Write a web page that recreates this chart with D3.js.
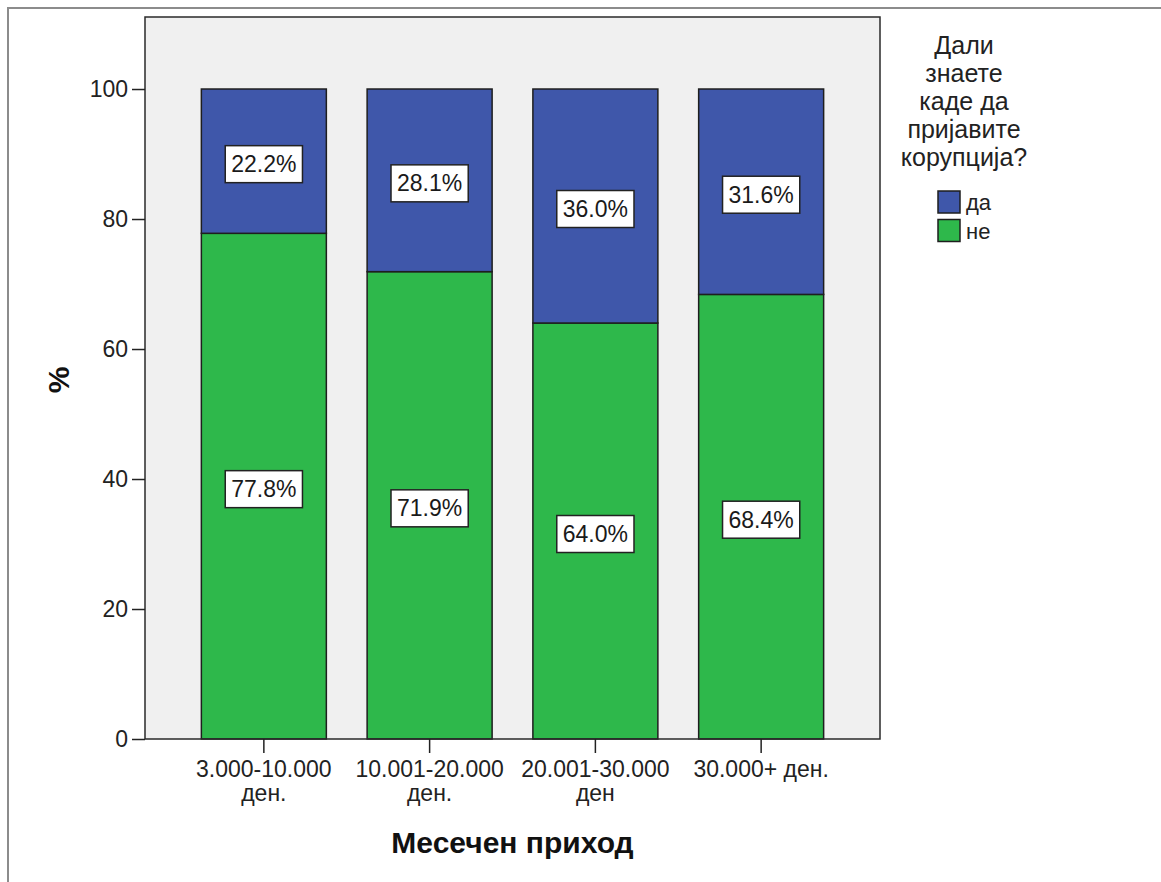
<!DOCTYPE html>
<html><head><meta charset="utf-8">
<script src="https://cdn.jsdelivr.net/npm/d3@7/dist/d3.min.js"></script>
<style>
html,body{margin:0;padding:0;background:#fff;}
svg{display:block;font-family:"Liberation Sans",Arial,sans-serif;}
</style></head>
<body>
<svg id="chart" width="1161" height="882"></svg>
<script>
const categories = [["3.000-10.000","ден."],["10.001-20.000","ден."],["20.001-30.000","ден"],["30.000+ ден."]];
const categoryKeys = ["c1","c2","c3","c4"];
const seriesNames = ["да","не"];
const daValues = [22.2, 28.1, 36.0, 31.6];
const neValues = [77.8, 71.9, 64.0, 68.4];
const yTicks = [0,20,40,60,80,100];
const colors = {"да":"#3f57aa","не":"#2eb84b"};
const legendTitle = ["Дали","знаете","каде да","пријавите","корупција?"];
const xTitle = "Месечен приход";
const yTitle = "%";

const svg = d3.select("#chart");
const plot = {left:145, right:880, top:17, bottom:739};

// outer frame
svg.append("rect").attr("x",8).attr("y",8).attr("width",1200).attr("height",1000)
  .attr("fill","none").attr("stroke","#8c8c8c").attr("stroke-width",2);

const x = d3.scaleBand().domain(categoryKeys).range([plot.left, plot.right])
  .paddingInner(0.246).paddingOuter(0.34);
const y = d3.scaleLinear().domain([0,111.08]).range([plot.bottom, plot.top]);

svg.append("rect").attr("x",plot.left).attr("y",plot.top)
  .attr("width",plot.right-plot.left).attr("height",plot.bottom-plot.top)
  .attr("fill","#f0f0f0");

// stacked data
const rows = categoryKeys.map((k,i)=>({key:k, "не":neValues[i], "да":daValues[i]}));
const stack = d3.stack().keys(["не","да"])(rows);

const g = svg.append("g");
stack.forEach(layer=>{
  g.selectAll(null).data(layer).enter().append("rect")
    .attr("x",d=>x(d.data.key))
    .attr("width",x.bandwidth())
    .attr("y",d=>y(d[1]))
    .attr("height",d=>y(d[0])-y(d[1]))
    .attr("fill",colors[layer.key])
    .attr("stroke","#1e1e1e").attr("stroke-width",1.5);
});

// frame of plot
svg.append("rect").attr("x",plot.left).attr("y",plot.top)
  .attr("width",plot.right-plot.left).attr("height",plot.bottom-plot.top)
  .attr("fill","none").attr("stroke","#2a2a2a").attr("stroke-width",1.5);

// value labels
const lg = svg.append("g");
stack.forEach(layer=>{
  layer.forEach(d=>{
    const cx = x(d.data.key)+x.bandwidth()/2;
    const cy = (y(d[0])+y(d[1]))/2 + 3;
    const v = d.data[layer.key];
    const t = lg.append("text").attr("x",cx).attr("y",cy+8)
      .attr("text-anchor","middle").attr("font-size",23).attr("fill","#1a1a1a")
      .text(v.toFixed(1)+"%");
    const w = t.node().getComputedTextLength();
    lg.insert("rect","text").attr("x",cx-w/2-6).attr("y",cy-18.5)
      .attr("width",w+12).attr("height",37)
      .attr("fill","#fff").attr("stroke","#222").attr("stroke-width",1.5);
  });
});

// y axis
const yAxis = d3.axisLeft(y).tickValues(yTicks).tickSize(13).tickPadding(4);
const ya = svg.append("g").attr("transform",`translate(${plot.left},0)`).call(yAxis);
ya.select(".domain").remove();
ya.selectAll(".tick line").attr("stroke","#222").attr("stroke-width",1.5);
ya.selectAll(".tick text").attr("font-size",23).attr("fill","#222")
  .attr("font-family","'Liberation Sans',Arial,sans-serif");

// x axis
const xAxis = d3.axisBottom(x).tickSize(14).tickFormat(()=> "");
const xa = svg.append("g").attr("transform",`translate(0,${plot.bottom})`).call(xAxis);
xa.select(".domain").remove();
xa.selectAll(".tick line").attr("stroke","#222").attr("stroke-width",1.5);
categoryKeys.forEach((k,i)=>{
  const t = svg.append("text").attr("x",x(k)+x.bandwidth()/2).attr("y",777)
    .attr("text-anchor","middle").attr("font-size",23).attr("fill","#222");
  categories[i].forEach((line,j)=>{
    t.append("tspan").attr("x",x(k)+x.bandwidth()/2).attr("dy",j===0?0:23.5).text(line);
  });
});

// axis titles
svg.append("text").attr("x",(plot.left+plot.right)/2).attr("y",853)
  .attr("text-anchor","middle").attr("font-size",30).attr("font-weight","bold")
  .attr("fill","#111").text(xTitle);
svg.append("text").attr("transform","translate(69,380) rotate(-90)")
  .attr("text-anchor","middle").attr("font-size",30).attr("font-weight","bold")
  .attr("fill","#111").text(yTitle);

// legend
const leg = svg.append("g");
legendTitle.forEach((line,i)=>{
  leg.append("text").attr("x",964).attr("y",54+i*28).attr("text-anchor","middle")
    .attr("font-size",25).attr("fill","#222").text(line);
});
seriesNames.forEach((s,i)=>{
  leg.append("rect").attr("x",938).attr("y",191+i*28.5).attr("width",22).attr("height",22)
    .attr("fill",colors[s]).attr("stroke","#1e1e1e").attr("stroke-width",1.5);
  leg.append("text").attr("x",966).attr("y",210+i*28.5).attr("font-size",22)
    .attr("fill","#222").text(s);
});
</script>
</body></html>
